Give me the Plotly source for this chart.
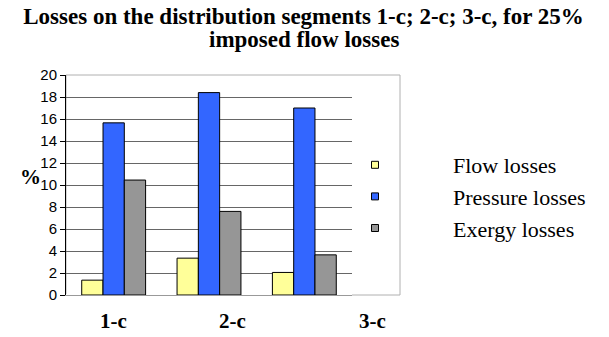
import plotly.graph_objects as go

categories = ["1-c", "2-c", "3-c"]
flow_losses = [1.35, 3.35, 2.05]
pressure_losses = [15.65, 18.4, 17.0]
exergy_losses = [10.45, 7.6, 3.65]
series_names = ["Flow losses", "Pressure losses", "Exergy losses"]
colors = ["#FFFF99", "#3366FF", "#969696"]
y_ticks = list(range(0, 21, 2))
title_lines = ["Losses on the distribution segments 1-c; 2-c; 3-c, for 25%", "imposed flow losses"]

fig = go.Figure()
for name, vals, col in zip(series_names, [flow_losses, pressure_losses, exergy_losses], colors):
    fig.add_trace(go.Bar(x=categories, y=vals, name=name, showlegend=False,
                         marker=dict(color=col, line=dict(color="black", width=1))))
    fig.add_trace(go.Scatter(x=[None], y=[None], mode="markers", name=name,
                             marker=dict(symbol="square", size=7, color=col,
                                         line=dict(color="black", width=1))))

W, H = 609, 337
L, R, T, B = 66, 352, 75, 295
PW, PH = R - L, B - T

def px(x):
    return (x - L) / PW

def py(y):
    return (B - y) / PH

fig.update_layout(
    width=W, height=H,
    margin=dict(l=L, r=W - R, t=T, b=H - B, pad=0),
    plot_bgcolor="white", paper_bgcolor="white",
    barmode="group", bargap=0.33, bargroupgap=0,
    title=dict(text="<b>%s</b>" % title_lines[0],
               x=303.5 / W, xref="container", xanchor="center",
               y=1 - 16 / H, yref="container", yanchor="middle",
               font=dict(family="Liberation Serif", size=23, color="black")),
    showlegend=True,
    legend=dict(x=px(297), xanchor="left", y=py(144), yanchor="top", itemwidth=146,
                font=dict(family="Liberation Serif", size=22, color="black"),
                bgcolor="rgba(0,0,0,0)", tracegroupgap=0, borderwidth=0),
    xaxis=dict(showticklabels=False, showline=True, linecolor="#999999", linewidth=1,
               ticks="", showgrid=False, range=[-0.5, 2.5]),
    yaxis=dict(range=[0, 20], tickvals=y_ticks, showline=True, linecolor="black", linewidth=1,
               ticks="outside", ticklen=5, tickcolor="black", showgrid=True,
               gridcolor="#666666", gridwidth=1,
               tickfont=dict(family="Liberation Sans", size=15, color="black")),
)

fig.add_annotation(text="<b>%s</b>" % title_lines[1], xref="paper", yref="paper",
                   x=px(303.5), y=py(40), xanchor="center", yanchor="middle", showarrow=False,
                   font=dict(family="Liberation Serif", size=23, color="black"))

# plot-area border (extends over the legend swatches)
fig.add_shape(type="rect", xref="paper", yref="paper", x0=0, x1=px(400), y0=0, y1=1,
              line=dict(color="#b0b0b0", width=1), layer="below")

fig.add_annotation(text="<b>%</b>", xref="paper", yref="paper", x=px(30), y=py(177),
                   xanchor="center", yanchor="middle",
                   showarrow=False, font=dict(family="Liberation Serif", size=21, color="black"))
label_x = [113, 232, 372]
for cat, lx in zip(categories, label_x):
    fig.add_annotation(text="<b>%s</b>" % cat, xref="paper", yref="paper",
                       x=px(lx), y=py(321), xanchor="center", yanchor="middle", showarrow=False,
                       font=dict(family="Liberation Serif", size=21, color="black"))

fig.write_html("out.html", config={"displayModeBar": False},
               post_script="document.body.style.margin='0px';")
